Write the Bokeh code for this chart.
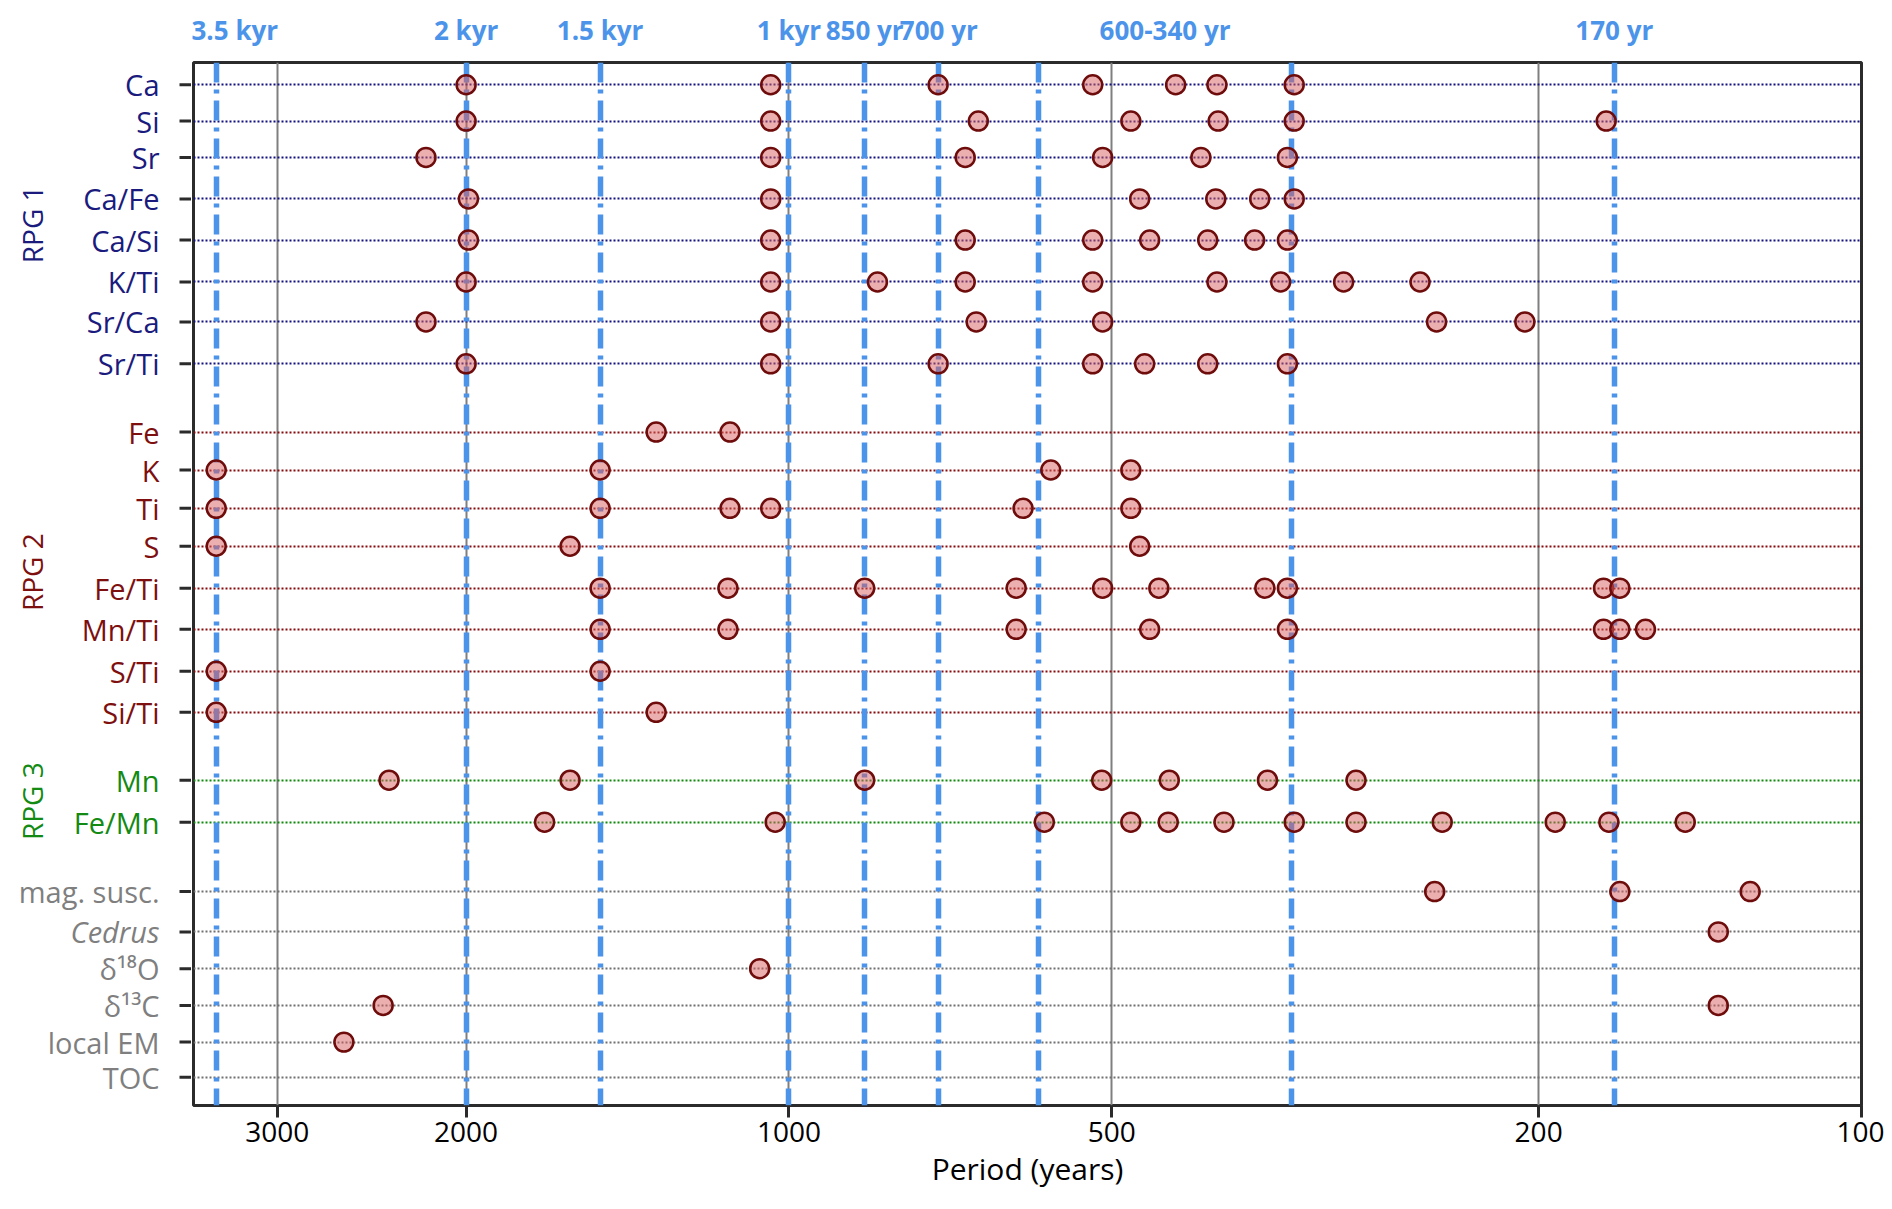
from math import pi, sqrt

from bokeh.core.properties import value
from bokeh.embed import file_html
from bokeh.layouts import row
from bokeh.models import ColumnDataSource, FixedTicker, LogAxis, PrintfTickFormatter, Range1d
from bokeh.plotting import figure
from bokeh.resources import INLINE

# --- data ---------------------------------------------------------------
rows = ["Ca", "Si", "Sr", "Ca/Fe", "Ca/Si", "K/Ti", "Sr/Ca", "Sr/Ti",
        "Fe", "K", "Ti", "S", "Fe/Ti", "Mn/Ti", "S/Ti", "Si/Ti",
        "Mn", "Fe/Mn",
        "mag. susc.", "Cedrus", "δ¹⁸O", "δ¹³C", "local EM", "TOC"]
groups = ["RPG 1"] * 8 + ["RPG 2"] * 8 + ["RPG 3"] * 2 + [""] * 6
# row positions (top = 0), as spaced in the original chart
row_pos = [0, 0.91, 1.82, 2.86, 3.89, 4.94, 5.94, 6.99,
           8.7, 9.65, 10.61, 11.56, 12.61, 13.64, 14.69, 15.72,
           17.42, 18.47,
           20.21, 21.22, 22.14, 23.06, 23.98, 24.86]

# significant periods (years) for each record
ca = [2000, 1040, 726, 521, 436, 399, 338]
si = [2000, 1040, 666, 480, 398, 338, 173]
sr = [2180, 1040, 685, 510, 413, 343]
ca_fe = [1990, 1040, 471, 400, 364, 338]
ca_si = [1990, 1040, 685, 521, 461, 407, 368, 343]
k_ti = [2000, 1040, 827, 685, 521, 399, 348, 304, 258]
sr_ca = [2180, 1040, 669, 510, 249, 206]
sr_ti = [2000, 1040, 726, 521, 466, 407, 343]
fe = [1330, 1135]
k = [3420, 1500, 570, 480]
ti = [3420, 1500, 1135, 1040, 605, 480]
s = [3420, 1600, 471]
fe_ti = [1500, 1140, 850, 614, 510, 452, 360, 343, 174, 168]
mn_ti = [1500, 1140, 614, 461, 343, 174, 168, 159]
s_ti = [3420, 1500]
si_ti = [3420, 1330]
mn = [2360, 1600, 850, 511, 442, 358, 296]
fe_mn = [1690, 1030, 578, 480, 443, 393, 338, 296, 246, 193, 172, 146]
mag_susc = [250, 168, 127]
cedrus = [136]
d18o = [1065]
d13c = [2390, 136]
local_em = [2600]
toc = []

peaks = [ca, si, sr, ca_fe, ca_si, k_ti, sr_ca, sr_ti,
         fe, k, ti, s, fe_ti, mn_ti, s_ti, si_ti,
         mn, fe_mn,
         mag_susc, cedrus, d18o, d13c, local_em, toc]

# common cycles marked with blue lines
line_periods = [3420, 2000, 1500, 1000, 850, 725, 585, 340, 170]
line_labels = ["3.5 kyr", "2 kyr", "1.5 kyr", "1 kyr", "850 yr", "700 yr", "", "", "170 yr"]
range_label = "600-340 yr"   # spans the 585 and 340 yr lines

x_ticks = [3000, 2000, 1000, 500, 200, 100]

# --- styling ----------------------------------------------------------------
FONT = "Open Sans"
BLUE = "#4C93EA"
FRAME = "#2B2B2B"
label_colors = {"RPG 1": "#1B1B7E", "RPG 2": "#7E0F0F", "RPG 3": "#138A13", "": "#7F7F7F"}
dot_colors = {"RPG 1": "#12127F", "RPG 2": "#860B0B", "RPG 3": "#0E8A0E", "": "#707070"}

TOP, BOTTOM, H = 62, 84, 1191

yr = Range1d(25.5675, -0.5575)

p = figure(width=1693, height=H, x_axis_type="log", x_range=Range1d(3591, 100),
           y_range=yr, y_axis_location=None, tools="", toolbar_location=None,
           output_backend="svg", min_border_left=2, min_border_right=23,
           min_border_top=TOP, min_border_bottom=BOTTOM)

p.outline_line_color = FRAME
p.outline_line_width = 3
p.ygrid.grid_line_color = None
p.xgrid.ticker = FixedTicker(ticks=x_ticks)
p.xgrid.grid_line_color = "#7F7F7F"
p.xgrid.grid_line_width = 2

ax = p.xaxis[0]
ax.ticker = FixedTicker(ticks=x_ticks)
ax.formatter = PrintfTickFormatter(format="%d")
ax.axis_label = "Period (years)"
ax.axis_label_text_font = FONT
ax.axis_label_text_font_size = "30px"
ax.axis_label_text_font_style = "normal"
ax.axis_label_text_color = "black"
ax.axis_label_standoff = 3
ax.major_label_text_font = FONT
ax.major_label_text_font_size = "28px"
ax.major_label_text_color = "black"
ax.major_label_standoff = 4
ax.major_tick_out = 12
ax.major_tick_in = 0
ax.major_tick_line_width = 3
ax.major_tick_line_color = FRAME
ax.minor_tick_line_color = None
ax.axis_line_color = None

# labels of the blue lines, above the frame
top_ticks = [per for per, lab in zip(line_periods, line_labels) if lab]
overrides = {per: lab for per, lab in zip(line_periods, line_labels) if lab}
mid = round(sqrt(line_periods[6] * line_periods[7]))
top_ticks.append(mid)
overrides[mid] = range_label
top = LogAxis(ticker=FixedTicker(ticks=top_ticks), major_label_overrides=overrides)
top.axis_line_color = None
top.major_tick_line_color = None
top.minor_tick_line_color = None
top.major_tick_out = 0
top.major_tick_in = 0
top.major_label_text_color = BLUE
top.major_label_text_font = FONT
top.major_label_text_font_size = "26px"
top.major_label_text_font_style = "bold"
top.major_label_standoff = 15
p.add_layout(top, "above")

# dotted record lines
for g in ["RPG 1", "RPG 2", "RPG 3", ""]:
    ys = [y for y, gg in zip(row_pos, groups) if gg == g]
    p.hspan(y=ys, line_color=dot_colors[g], line_width=2, line_dash="2 2")

p.vspan(x=line_periods, line_color=BLUE, line_width=5.5, line_dash="20 7 4 7")

xs, ys = [], []
for y, vals in zip(row_pos, peaks):
    xs += vals
    ys += [y] * len(vals)
p.scatter(x=xs, y=ys, size=19, fill_color="#D86060", fill_alpha=0.5,
          line_color="#6E0B0B", line_width=2.5)

# --- row labels on the left -----------------------------------------------
LW = 191
lab = figure(width=LW, height=H, x_range=Range1d(0, LW), y_range=yr,
             x_axis_location=None, y_axis_location=None, tools="", toolbar_location=None,
             output_backend="svg", min_border_left=0, min_border_right=0,
             min_border_top=TOP, min_border_bottom=BOTTOM, outline_line_color=None)
lab.grid.visible = False

src = ColumnDataSource(dict(
    y=row_pos, text=rows,
    color=[label_colors[g] for g in groups],
    style=["italic" if r == "Cedrus" else "normal" for r in rows],
))
lab.text(x=LW - 32, y="y", text="text", source=src, text_color="color",
         text_font_style="style", text_font=value(FONT), text_font_size=value("29px"),
         text_align="right", text_baseline="middle")
lab.segment(x0=LW - 12, x1=LW, y0="y", y1="y", source=src, line_width=3, line_color=FRAME)

g_names = ["RPG 1", "RPG 2", "RPG 3"]
g_y = []
for g in g_names:
    ys_g = [y for y, gg in zip(row_pos, groups) if gg == g]
    g_y.append((min(ys_g) + max(ys_g)) / 2)
lab.text(x=31, y=g_y, text=g_names, angle=pi / 2, text_color=[label_colors[g] for g in g_names],
         text_font=value(FONT), text_font_size=value("28px"),
         text_align="center", text_baseline="middle")

layout = row(lab, p)
open("out.html", "w").write(file_html(layout, INLINE))
